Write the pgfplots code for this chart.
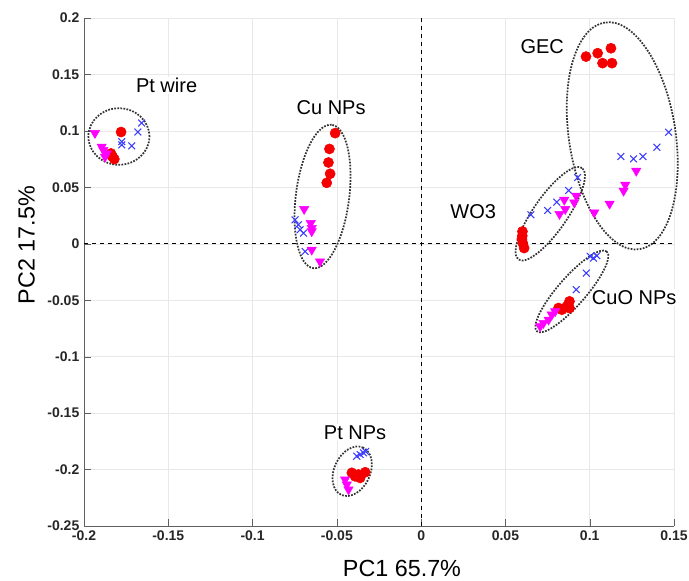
\documentclass[border=0pt]{standalone}
\usepackage{pgfplots}
\pgfplotsset{compat=1.18}
\usetikzlibrary{shapes.geometric}
\usepackage{fontspec}
\setmainfont{Liberation Sans}

\definecolor{ptred}{RGB}{245,0,0}
\definecolor{ptblue}{RGB}{60,60,255}
\definecolor{ptmag}{RGB}{255,0,255}

\begin{document}
\begin{tikzpicture}
\begin{axis}[
  scale only axis, width=442.5pt, height=381pt,
  xmin=-0.2, xmax=0.15, ymin=-0.25, ymax=0.2,
  xtick={-0.2,-0.15,-0.1,-0.05,0,0.05,0.1,0.15},
  ytick={-0.25,-0.2,-0.15,-0.1,-0.05,0,0.05,0.1,0.15,0.2},
  axis x line*=bottom, axis y line*=left,
  axis line style={gray!75!black,-},
  tick style={gray!75!black}, tick align=inside, major tick length=5pt,
  grid=major, grid style={gray!18},
  /pgf/number format/fixed, /pgf/number format/precision=2,
  /pgf/number format/assume math mode=true,
  ticklabel style={font=\bfseries\fontsize{10.5}{12}\selectfont, text=black!85},
  clip=false,
]
\coordinate (O) at (rel axis cs:0,0);
% cluster names (white boxes hide the grid behind them)
\tikzset{lab/.style={font=\fontsize{15}{17}\selectfont, text=black, fill=white, inner sep=1pt}}
\node[lab] at (axis cs:-0.151,0.140) {Pt wire};
\node[lab] at (axis cs:-0.0534,0.1204) {Cu NPs};
\node[lab] at (axis cs:0.0718,0.1743) {GEC};
\node[lab] at (axis cs:0.0309,0.0283) {WO3};
\node[lab] at (axis cs:0.1264,-0.0478) {CuO NPs};
\node[lab] at (axis cs:-0.0392,-0.1673) {Pt NPs};

% zero lines
\draw[dashed, black, thick] (axis cs:0,-0.25) -- (axis cs:0,0.2);
\draw[dashed, black, thick] (axis cs:-0.2,0) -- (axis cs:0.15,0);

% red circles
\addplot[only marks, mark=*, mark size=3.8pt, color=ptred] coordinates {
  (-0.178,0.099)(-0.184,0.080)(-0.183,0.077)(-0.182,0.075)(-0.1835,0.078)
  (-0.051,0.098)(-0.0544,0.084)(-0.055,0.072)(-0.054,0.062)(-0.056,0.054)
  (0.0978,0.1658)(0.1047,0.1688)(0.1126,0.1732)(0.1076,0.160)(0.1132,0.160)
  (0.0601,0.0109)(0.060,0.007)(0.0598,0.0042)(0.0603,0.0006)(0.0611,-0.0038)
  (0.088,-0.051)(0.0864,-0.0555)(0.0835,-0.0584)(0.0815,-0.0569)(0.088,-0.057)
  (-0.0411,-0.2029)(-0.0372,-0.2044)(-0.0332,-0.2024)(-0.0392,-0.206)(-0.0362,-0.2074)
};
% blue crosses
\addplot[only marks, mark=x, mark size=3.6pt, color=ptblue, mark options={line width=0.8pt}] coordinates {
  (-0.1658,0.107)(-0.168,0.099)(-0.1776,0.0905)(-0.1776,0.0876)(-0.1717,0.0867)
  (-0.0748,0.0212)(-0.0728,0.0168)(-0.0718,0.0124)(-0.0698,0.0095)(-0.0688,-0.0068)
  (0.1468,0.0988)(0.1399,0.0855)(0.1316,0.0773)(0.126,0.0752)(0.1185,0.0773)
  (0.0928,0.0587)(0.0875,0.0472)(0.0805,0.0369)(0.075,0.0295)(0.0651,0.0257)
  (0.1043,-0.0106)(0.1023,-0.0127)(0.1003,-0.0112)(0.098,-0.026)(0.092,-0.0407)
  (-0.0342,-0.1852)(-0.0362,-0.1867)(-0.0382,-0.1882)(-0.033,-0.184)
};
% magenta triangles
\addplot[only marks, mark=triangle*, mark size=4pt, color=ptmag, mark options={rotate=180}] coordinates {
  (-0.1935,0.098)(-0.1895,0.086)(-0.1885,0.083)(-0.1865,0.080)(-0.1875,0.077)
  (-0.0694,0.0307)(-0.0655,0.0183)(-0.0649,0.0139)(-0.0649,0.011)(-0.0649,-0.0053)(-0.060,-0.0157)
  (0.1276,0.0646)(0.1211,0.0522)(0.1201,0.0469)(0.1118,0.0354)(0.1027,0.0277)
  (0.092,0.0425)(0.0908,0.0366)(0.0849,0.0389)(0.0855,0.0307)(0.0821,0.0263)
  (0.0795,-0.0599)(0.0775,-0.0628)(0.0756,-0.0673)(0.0726,-0.0702)(0.0706,-0.0732)
  (-0.0451,-0.2089)(-0.0441,-0.2133)(-0.0431,-0.2177)
};

% cluster ellipses
\tikzset{clus/.style={draw=black!80, densely dotted, line width=1.3pt, ellipse, inner sep=0pt}}
\node[clus, minimum width=45.8pt, minimum height=42.4pt] at (axis cs:-0.1793,0.095) {};
\node[clus, minimum width=108.4pt, minimum height=40pt, rotate=82.7] at (axis cs:-0.0585,0.0419) {};
\node[clus, minimum width=172pt, minimum height=80pt, rotate=98.7] at (axis cs:0.1193,0.0956) {};
\node[clus, minimum width=83.6pt, minimum height=25.5pt, rotate=55.3] at (axis cs:0.0766,0.0266) {};
\node[clus, minimum width=79.5pt, minimum height=21pt, rotate=48.8] at (axis cs:0.0894,-0.0422) {};
\node[clus, minimum width=39pt, minimum height=27pt, rotate=65] at (axis cs:-0.0409,-0.2015) {};

% axis titles
\node[font=\fontsize{17.5}{20}\selectfont] at ([yshift=-32pt]rel axis cs:0.539,0) {PC1 65.7\%};
\node[font=\fontsize{17.5}{20}\selectfont, rotate=90] at ([xshift=-43pt]rel axis cs:0,0.553) {PC2 17.5\%};
\end{axis}
\pgfresetboundingbox
\path (O) ++(-63pt,-41.25pt) rectangle ++(516.75pt,435.75pt);
\end{tikzpicture}
\end{document}
